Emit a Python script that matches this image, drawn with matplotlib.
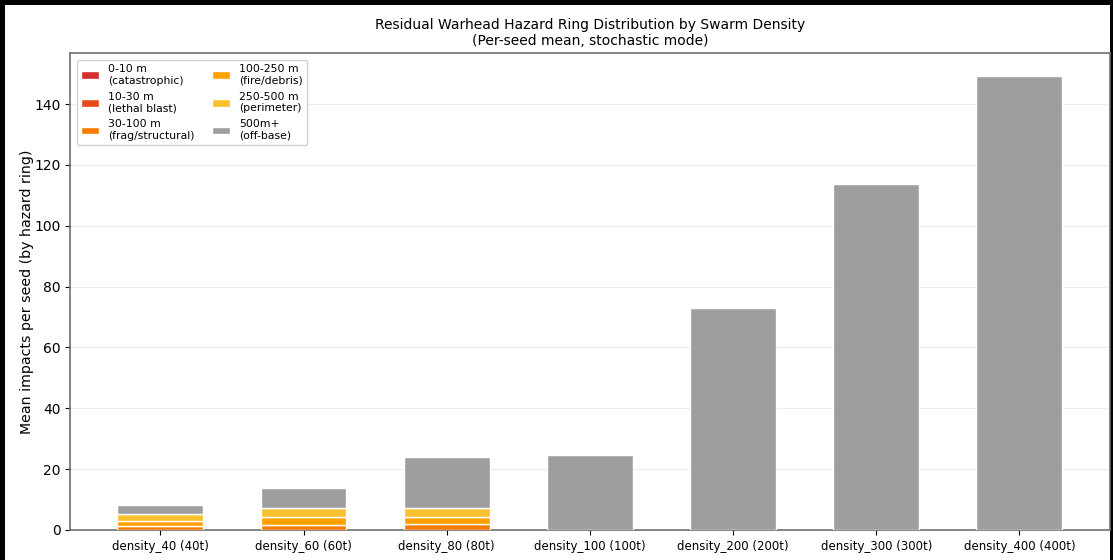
import matplotlib
matplotlib.use("Agg")
import matplotlib.pyplot as plt
from matplotlib.patches import Rectangle
import numpy as np

# Swarm density scenarios
scenarios = ["density_40 (40t)", "density_60 (60t)", "density_80 (80t)",
             "density_100 (100t)", "density_200 (200t)", "density_300 (300t)",
             "density_400 (400t)"]

# Mean impacts per seed, split by hazard ring
ring_labels = ["0-10 m\n(catastrophic)", "10-30 m\n(lethal blast)",
               "30-100 m\n(frag/structural)", "100-250 m\n(fire/debris)",
               "250-500 m\n(perimeter)", "500m+\n(off-base)"]
ring_colors = ["#d32f2f", "#e64a19", "#f57c00", "#ffa000", "#fbc02d", "#9e9e9e"]

ring_0_10 = [0.0, 0.0, 0.0, 0.0, 0.0, 0.0, 0.0]
ring_10_30 = [0.0, 0.0, 0.0, 0.0, 0.0, 0.0, 0.0]
ring_30_100 = [1.3, 1.6, 2.0, 0.0, 0.0, 0.0, 0.0]
ring_100_250 = [1.8, 2.7, 2.4, 0.0, 0.0, 0.0, 0.0]
ring_250_500 = [2.0, 2.8, 2.8, 0.0, 0.0, 0.0, 0.0]
ring_500_plus = [3.1, 6.6, 16.9, 24.7, 73.1, 113.6, 149.2]

rings = [ring_0_10, ring_10_30, ring_30_100, ring_100_250, ring_250_500, ring_500_plus]

fig = plt.figure(figsize=(11.13, 5.6), dpi=100)
fig.patch.set_facecolor("black")
fig.add_artist(Rectangle((5 / 1113, 0), 1105 / 1113, 555 / 560,
                         transform=fig.transFigure, facecolor="white",
                         edgecolor="none", zorder=-10))
ax = fig.add_axes([0.063, 0.0536, 0.934, 0.851])

x = np.arange(len(scenarios))
bottom = np.zeros(len(scenarios))
for vals, lab, col in zip(rings, ring_labels, ring_colors):
    vals = np.array(vals)
    ax.bar(x, vals, 0.6, bottom=bottom, color=col, edgecolor="white",
           linewidth=1, label=lab, zorder=3)
    bottom += vals

ax.set_xticks(x)
ax.set_xticklabels(scenarios, fontsize=8.5)
ax.tick_params(axis="y", labelsize=10)
ax.set_ylabel("Mean impacts per seed (by hazard ring)", fontsize=10.2, labelpad=0)
ax.set_title("Residual Warhead Hazard Ring Distribution by Swarm Density\n"
             "(Per-seed mean, stochastic mode)", fontsize=10)
ax.grid(axis="y", color="#ececec", linewidth=0.8, zorder=0)
ax.set_axisbelow(True)
for sp in ax.spines.values():
    sp.set_color("#6f6f6f")
    sp.set_linewidth(1.2)

ax.legend(loc="upper left", ncol=2, fontsize=7.8, framealpha=0.9,
          handlelength=1.7, columnspacing=1.6, labelspacing=0.55,
          borderaxespad=0.6)

fig.savefig("out.png", dpi=100, facecolor=fig.get_facecolor())
